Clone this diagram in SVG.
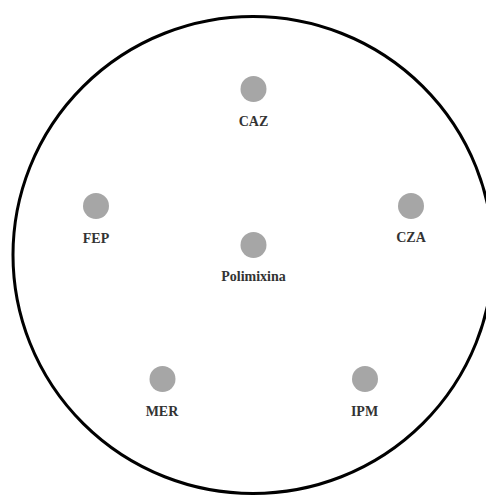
<svg xmlns="http://www.w3.org/2000/svg" width="486" height="496" viewBox="0 0 486 496">
<style>
.dot{fill:#a6a6a6}
.lbl{font-family:"Liberation Serif","Times New Roman",serif;font-weight:bold;font-size:14px;fill:#333;text-anchor:middle}
</style>
<rect width="486" height="496" fill="#fff"/>
<g id="plate"><ellipse cx="253" cy="255" rx="240" ry="238.5" fill="none" stroke="#000" stroke-width="3"/></g>
<g id="connectors"></g>
<g id="CAZ"><circle class="dot" cx="253.5" cy="89" r="13"/><text class="lbl" x="253.5" y="126">CAZ</text></g>
<g id="FEP"><circle class="dot" cx="96" cy="206" r="13"/><text class="lbl" x="96" y="243">FEP</text></g>
<g id="CZA"><circle class="dot" cx="411" cy="206" r="13"/><text class="lbl" x="411" y="242">CZA</text></g>
<g id="Polimixina"><circle class="dot" cx="253.5" cy="245" r="13"/><text class="lbl" x="253.5" y="281">Polimixina</text></g>
<g id="MER"><circle class="dot" cx="162.5" cy="379" r="13"/><text class="lbl" x="162" y="416">MER</text></g>
<g id="IPM"><circle class="dot" cx="365" cy="379" r="13"/><text class="lbl" x="364.5" y="416">IPM</text></g>
</svg>
